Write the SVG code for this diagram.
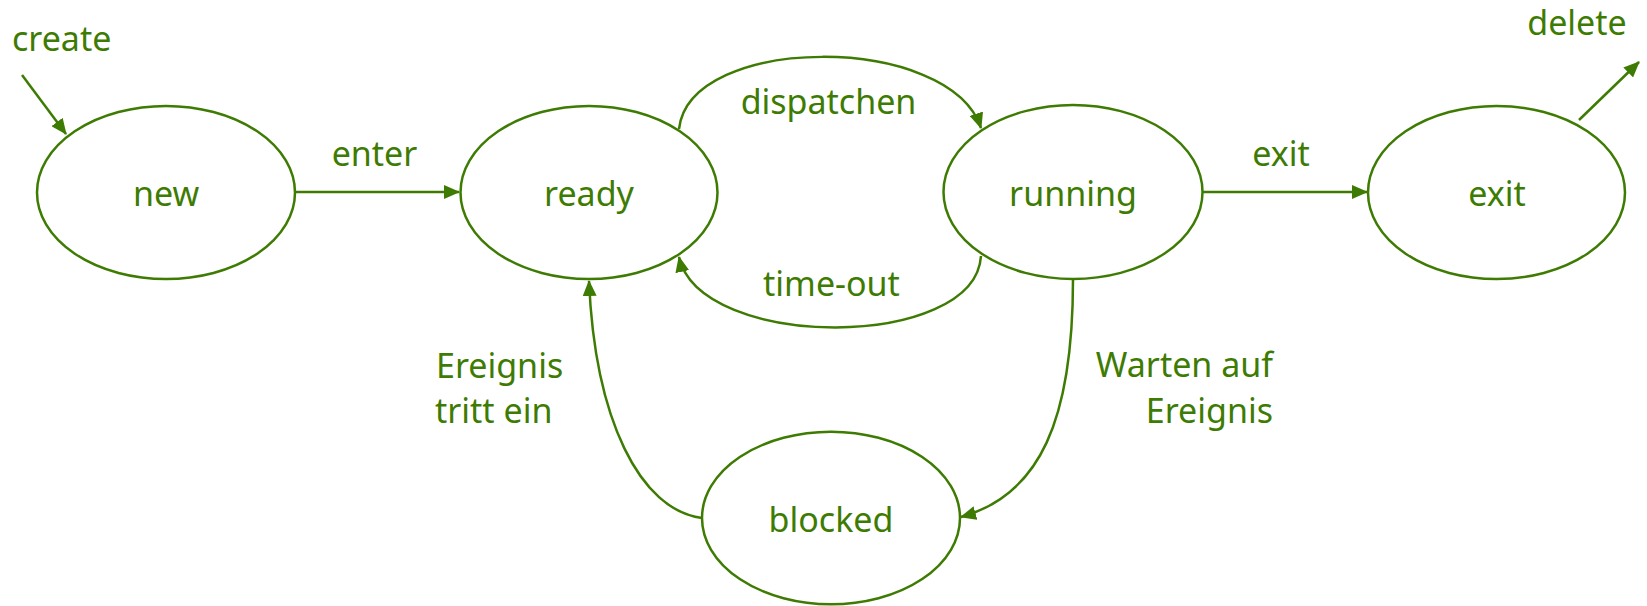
<svg xmlns="http://www.w3.org/2000/svg" width="1647" height="606" viewBox="0 0 1647 606">
<style>
.node{fill:#ffffff;stroke:#3e7b03;stroke-width:2.5}
.edge{fill:none;stroke:#3e7b03;stroke-width:2.5;marker-end:url(#arr)}
text{font-family:"Noto Sans","DejaVu Sans",sans-serif;font-size:34px;fill:#3e7b03}
.c{text-anchor:middle}
.e{text-anchor:end}
</style>
<defs>
<marker id="arr" markerUnits="userSpaceOnUse" markerWidth="16" markerHeight="14" refX="15" refY="7" orient="auto" viewBox="0 0 16 14">
<path d="M0,0 L16,7 L0,14 z" fill="#3e7b03"/>
</marker>
</defs>
<rect width="1647" height="606" fill="#ffffff"/>
<g id="connectors">
<path class="edge" d="M22,75 L66,134"/>
<path class="edge" d="M295,192 L459,192"/>
<path class="edge" d="M679,129 C690,33 950,33 981,128"/>
<path class="edge" d="M981,256 C975,351 700,351 679,257"/>
<path class="edge" d="M1202,192 L1367,192"/>
<path class="edge" d="M1579,120 L1639,62"/>
<path class="edge" d="M702,518 C640,510 595,420 589,281"/>
<path class="edge" d="M1073,279 C1073,420 1040,495 961,517"/>
</g>
<g id="labels">
<text x="12" y="51">create</text>
<text class="c" x="374.5" y="166">enter</text>
<text class="c" x="828.5" y="114">dispatchen</text>
<text class="c" x="831.5" y="296">time-out</text>
<text class="c" x="1281" y="166">exit</text>
<text class="c" x="1577" y="35">delete</text>
<text x="436" y="378">Ereignis</text>
<text x="435" y="423">tritt ein</text>
<text class="e" x="1273" y="377">Warten auf</text>
<text class="e" x="1273" y="423">Ereignis</text>
</g>
<g id="node-new">
<ellipse class="node" cx="166" cy="192.5" rx="129" ry="86.5"/>
<text class="c" x="166" y="206">new</text>
</g>
<g id="node-ready">
<ellipse class="node" cx="589" cy="192.5" rx="128.5" ry="86.5"/>
<text class="c" x="589" y="206">ready</text>
</g>
<g id="node-running">
<ellipse class="node" cx="1073" cy="192" rx="129.5" ry="87"/>
<text class="c" x="1073" y="206">running</text>
</g>
<g id="node-exit">
<ellipse class="node" cx="1496.5" cy="192.5" rx="128.5" ry="86.5"/>
<text class="c" x="1497" y="206">exit</text>
</g>
<g id="node-blocked">
<ellipse class="node" cx="831" cy="518" rx="129" ry="86.3"/>
<text class="c" x="831" y="532">blocked</text>
</g>
</svg>
